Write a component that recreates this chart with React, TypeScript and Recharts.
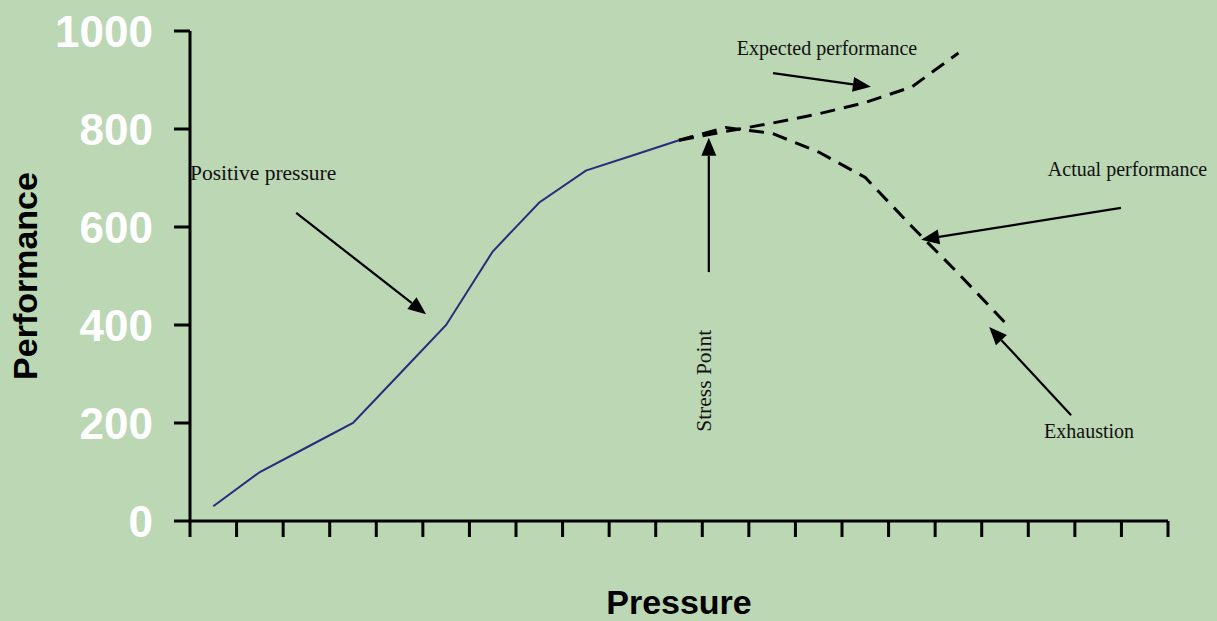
import React from 'react';
import {
  LineChart,
  Line,
  XAxis,
  YAxis,
  ReferenceLine,
  ReferenceDot,
  Label,
} from 'recharts';

// pressure steps along the x axis (21 unlabeled categories)
const pressureSteps = [1, 2, 3, 4, 5, 6, 7, 8, 9, 10, 11, 12, 13, 14, 15, 16, 17, 18, 19, 20, 21];

const positivePressure = [30, 100, 150, 200, 300, 400, 550, 650, 715, 746, 777, null, null, null, null, null, null, null, null, null, null];
const expectedPerformance = [null, null, null, null, null, null, null, null, null, null, 777, 795, 812, 831, 854, 886, 955, null, null, null, null];
const actualPerformance = [null, null, null, null, null, null, null, null, null, null, 777, 803, 791, 753, 701, 601, 505, 405, null, null, null];

const yTicks = [0, 200, 400, 600, 800, 1000];
const xTicks = [0, 1, 2, 3, 4, 5, 6, 7, 8, 9, 10, 11, 12, 13, 14, 15, 16, 17, 18, 19, 20, 21];

// annotation arrows, in chart units: [fromX, fromY, toX, toY]
const arrows = [
  [2.28, 629, 5.07, 422],
  [12.52, 914, 14.62, 886],
  [11.14, 508, 11.14, 782],
  [19.99, 639, 15.7, 574],
  [18.92, 216, 17.16, 396],
];

// annotation texts: text, x, y (baseline), rotation, size
const notes: [string, number, number, number, number][] = [
  ['Positive pressure', 0.0, 696, 0, 21.5],
  ['Expected performance', 11.74, 951, 0, 20],
  ['Actual performance', 18.42, 704, 0, 20],
  ['Exhaustion', 18.34, 169, 0, 20],
  ['Stress Point', 11.19, 182, -90, 21.5],
];

const data = pressureSteps.map((step, i) => ({
  x: step - 0.5,
  positive: positivePressure[i],
  expected: expectedPerformance[i],
  actual: actualPerformance[i],
}));

const BG = '#bbd7b4';
const SANS = 'Arial, "Liberation Sans", sans-serif';
const SERIF = '"Times New Roman", "Liberation Serif", serif';

const Arrow = (props: any) => {
  const { x1, y1, x2, y2 } = props;
  const ang = Math.atan2(y2 - y1, x2 - x1);
  const len = 18;
  const half = 7.5;
  const bx = x2 - len * Math.cos(ang);
  const by = y2 - len * Math.sin(ang);
  const px = -Math.sin(ang) * half;
  const py = Math.cos(ang) * half;
  return (
    <g>
      <line x1={x1} y1={y1} x2={bx} y2={by} stroke="#000" strokeWidth={2.2} />
      <polygon
        points={`${x2},${y2} ${bx + px},${by + py} ${bx - px},${by - py}`}
        fill="#000"
      />
    </g>
  );
};

const noteShape = (text: string, rot: number, size: number) => (props: any) => {
  const { cx, cy } = props;
  return (
    <text
      x={cx}
      y={cy}
      fill="#111"
      fontFamily={SERIF}
      fontSize={size}
      textAnchor="start"
      transform={rot ? `rotate(${rot} ${cx} ${cy})` : undefined}
    >
      {text}
    </text>
  );
};

// x axis has tick marks but no labels
const NoLabel = () => <g />;

const App = () => (
  <div
    style={{
      position: 'absolute',
      left: 0,
      top: 0,
      width: 1217,
      height: 621,
      background: BG,
    }}
  >
    <LineChart
      width={1217}
      height={621}
      data={data}
      margin={{ top: 31, right: 49, left: 0, bottom: 0 }}
    >
      <XAxis
        dataKey="x"
        type="number"
        domain={[0, 21]}
        ticks={xTicks}
        interval={0}
        height={100}
        tickSize={16}
        tick={NoLabel}
        axisLine={{ stroke: '#000', strokeWidth: 3 }}
        tickLine={{ stroke: '#000', strokeWidth: 3 }}
      >
        <Label
          content={() => (
            <text
              x={679}
              y={614}
              textAnchor="middle"
              fontFamily={SANS}
              fontWeight="bold"
              fontSize={34}
              fill="#000"
            >
              Pressure
            </text>
          )}
        />
      </XAxis>
      <YAxis
        type="number"
        domain={[0, 1000]}
        ticks={yTicks}
        interval={0}
        width={190}
        tickSize={16}
        tickMargin={21}
        tick={{ fill: '#fff', fontSize: 44, fontWeight: 'bold', fontFamily: SANS }}
        axisLine={{ stroke: '#000', strokeWidth: 3 }}
        tickLine={{ stroke: '#000', strokeWidth: 3 }}
      >
        <Label
          content={() => (
            <text
              x={37}
              y={276}
              transform="rotate(-90 37 276)"
              textAnchor="middle"
              fontFamily={SANS}
              fontWeight="bold"
              fontSize={34}
              fill="#000"
            >
              Performance
            </text>
          )}
        />
      </YAxis>
      <Line
        dataKey="positive"
        stroke="#2b2b7b"
        strokeWidth={2}
        dot={false}
        activeDot={false}
        isAnimationActive={false}
      />
      <Line
        dataKey="expected"
        stroke="#000"
        strokeWidth={3}
        strokeDasharray="15 9"
        dot={false}
        activeDot={false}
        isAnimationActive={false}
      />
      <Line
        dataKey="actual"
        stroke="#000"
        strokeWidth={3}
        strokeDasharray="15 9"
        dot={false}
        activeDot={false}
        isAnimationActive={false}
      />
      {arrows.map((a, i) => (
        <ReferenceLine
          key={`arrow-${i}`}
          segment={[
            { x: a[0], y: a[1] },
            { x: a[2], y: a[3] },
          ]}
          ifOverflow="visible"
          shape={Arrow}
        />
      ))}
      {notes.map(([text, x, y, rot, size]) => (
        <ReferenceDot
          key={text}
          x={x}
          y={y}
          r={0}
          ifOverflow="visible"
          shape={noteShape(text, rot, size)}
        />
      ))}
    </LineChart>
  </div>
);

export default App;
